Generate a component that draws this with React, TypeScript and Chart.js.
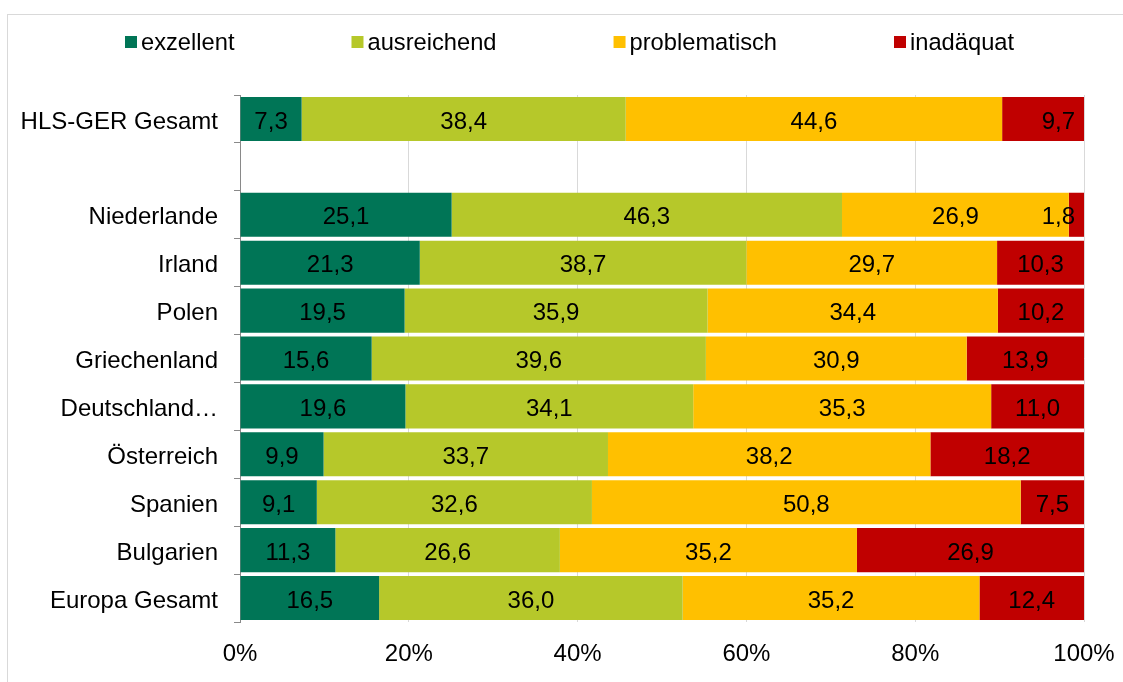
import React, { useEffect, useRef } from "react";
import { Chart, registerables } from "chart.js";

Chart.register(...registerables);

const categories = [
  "HLS-GER Gesamt",
  "",
  "Niederlande",
  "Irland",
  "Polen",
  "Griechenland",
  "Deutschland…",
  "Österreich",
  "Spanien",
  "Bulgarien",
  "Europa Gesamt",
];
const seriesNames = ["exzellent", "ausreichend", "problematisch", "inadäquat"];
const exzellent = [7.3, null, 25.1, 21.3, 19.5, 15.6, 19.6, 9.9, 9.1, 11.3, 16.5];
const ausreichend = [38.4, null, 46.3, 38.7, 35.9, 39.6, 34.1, 33.7, 32.6, 26.6, 36.0];
const problematisch = [44.6, null, 26.9, 29.7, 34.4, 30.9, 35.3, 38.2, 50.8, 35.2, 35.2];
const inadaequat = [9.7, null, 1.8, 10.3, 10.2, 13.9, 11.0, 18.2, 7.5, 26.9, 12.4];
const xTicks = [0, 20, 40, 60, 80, 100];

const colors = ["#007556", "#B6C82A", "#FFC000", "#C00000"];
const FONT = "'Liberation Sans', Arial, sans-serif";
const FS = 24;
const LEGEND_FS = 23.7;

export default function App() {
  const ref = useRef<HTMLCanvasElement | null>(null);

  useEffect(() => {
    const canvas = ref.current;
    if (!canvas) return;
    const raw = [exzellent, ausreichend, problematisch, inadaequat];
    const sums = categories.map((_, i) =>
      raw.reduce((s, arr) => s + (arr[i] == null ? 0 : (arr[i] as number)), 0)
    );

    const datasets = raw.map((arr, k) => ({
      label: seriesNames[k],
      data: arr.map((v, i) => (v == null ? null : (v / sums[i]) * 100)),
      rawValues: arr,
      backgroundColor: colors[k],
      borderWidth: 0,
      categoryPercentage: 1,
      barPercentage: 0.92,
      endLabels: k === 3 ? [0, 2] : [],
    }));

    const labelPlugin = {
      id: "segLabels",
      afterDatasetsDraw(chart: any) {
        const ctx = chart.ctx;
        ctx.save();
        ctx.font = `${FS}px ${FONT}`;
        ctx.fillStyle = "#000";
        ctx.textBaseline = "middle";
        chart.data.datasets.forEach((ds: any, di: number) => {
          const meta = chart.getDatasetMeta(di);
          meta.data.forEach((el: any, i: number) => {
            const v = ds.rawValues[i];
            if (v == null) return;
            const txt = v.toFixed(1).replace(".", ",");
            if (ds.endLabels.includes(i)) {
              ctx.textAlign = "right";
              ctx.fillText(txt, el.x - 9, el.y + 3);
            } else {
              ctx.textAlign = "center";
              ctx.fillText(txt, (el.x + el.base) / 2, el.y + 3);
            }
          });
        });
        ctx.restore();
      },
    };

    const legendPlugin = {
      id: "customLegend",
      afterDraw(chart: any) {
        const ctx = chart.ctx;
        ctx.save();
        ctx.font = `${LEGEND_FS}px ${FONT}`;
        ctx.textBaseline = "middle";
        ctx.textAlign = "left";
        let x = 125;
        const y = 42;
        seriesNames.forEach((name, k) => {
          ctx.fillStyle = colors[k];
          ctx.fillRect(x, y - 6, 12, 12);
          ctx.fillStyle = "#000";
          ctx.fillText(name, x + 16, y + 1);
          x += 16 + ctx.measureText(name).width + 117;
        });
        ctx.restore();
      },
    };

    const chart = new Chart(canvas, {
      type: "bar",
      data: { labels: categories, datasets: datasets as any },
      options: {
        indexAxis: "y",
        responsive: false,
        animation: false,
        maintainAspectRatio: false,
        layout: { padding: { top: 95, right: 39, left: 0, bottom: 0 } },
        plugins: {
          legend: { display: false },
          tooltip: { enabled: false },
        },
        scales: {
          x: {
            stacked: true,
            min: 0,
            max: 100,
            afterBuildTicks(scale: any) {
              scale.ticks = xTicks.map((v) => ({ value: v }));
            },
            afterFit(scale: any) {
              scale.height = 60;
              scale.paddingRight = 0;
              scale.paddingLeft = 0;
            },
            ticks: {
              callback: (v: any) => `${v}%`,
              color: "#000",
              font: { family: FONT, size: FS },
              padding: 18,
              maxRotation: 0,
            },
            grid: { color: "#D9D9D9", drawTicks: false, lineWidth: 1 },
            border: { display: false },
          },
          y: {
            stacked: true,
            afterFit(scale: any) {
              scale.width = 240;
            },
            ticks: {
              color: "#000",
              font: { family: FONT, size: FS },
              padding: 16,
              labelOffset: 3,
            },
            grid: {
              offset: true,
              drawOnChartArea: false,
              drawTicks: true,
              tickLength: 6,
              color: "#898989",
            },
            border: { display: true, color: "#898989", width: 1 },
          },
        },
      } as any,
      plugins: [labelPlugin, legendPlugin],
    });
    return () => chart.destroy();
  }, []);

  return (
    <div
      style={{
        position: "fixed",
        left: 0,
        top: 0,
        width: 1123,
        height: 682,
        overflow: "hidden",
        background: "#fff",
      }}
    >
      <div
        style={{
          position: "absolute",
          left: 7,
          top: 14,
          width: 1300,
          height: 900,
          border: "1px solid #D9D9D9",
          boxSizing: "border-box",
        }}
      />
      <canvas
        ref={ref}
        width={1123}
        height={682}
        style={{ position: "absolute", left: 0, top: 0, width: 1123, height: 682 }}
      />
    </div>
  );
}
